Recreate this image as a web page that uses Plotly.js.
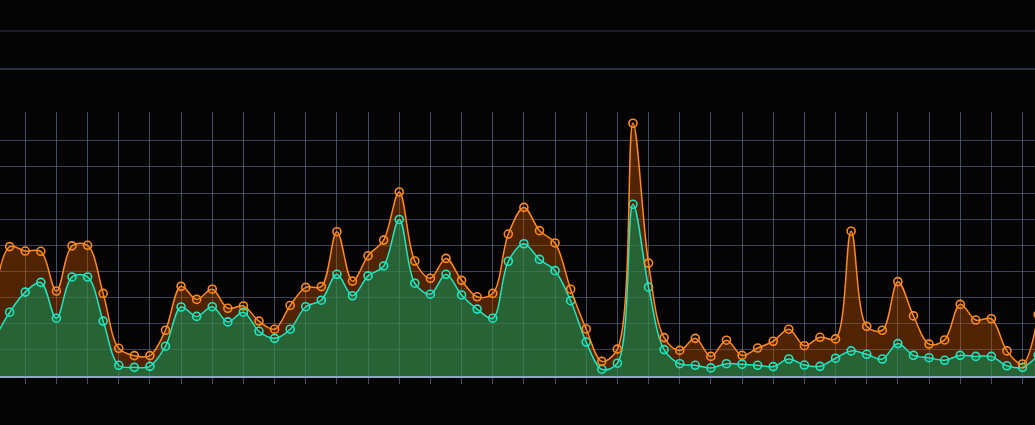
<!DOCTYPE html>
<html>
<head>
<meta charset="utf-8">
<script src="https://cdn.plot.ly/plotly-3.0.1.min.js"></script>
<style>
html,body{margin:0;padding:0;background:#040404;}
#chart{width:1035px;height:425px;}
</style>
</head>
<body>
<div id="chart"></div>
<script>
// sample index (one point per half grid step)
const samples = [];
for (let i = -1; i <= 66; i++) samples.push(i);

// upper series (orange)
const upperValues = [29.1,
  49.5,47.8,47.7,32.5,49.8,50.0,31.6,10.6,7.8,7.8,
  17.5,34.3,29.3,33.2,25.9,26.8,21.0,17.9,27.0,33.9,
  34.2,55.2,36.3,46.0,52.0,70.4,44.0,37.4,45.0,36.6,
  30.3,31.6,54.3,64.5,55.6,50.9,33.2,18.0,5.6,10.3,
  96.7,43.2,14.7,9.8,14.4,7.5,13.7,7.9,10.7,13.3,
  17.9,11.6,14.8,14.2,55.4,19.0,17.5,36.1,23.0,12.2,
  13.8,27.4,21.4,21.9,9.6,4.6,23.5];

// lower series (cyan)
const lowerValues = [13.8,
  24.4,32.1,35.8,22.1,37.9,37.9,21.0,4.1,3.3,3.7,
  11.4,26.4,22.8,26.5,20.7,24.4,17.1,14.4,17.9,26.5,
  29.0,38.9,30.7,38.3,42.1,59.9,35.5,31.3,38.9,31.0,
  25.6,22.1,43.9,50.6,44.6,40.3,28.8,13.0,2.6,4.9,
  65.7,34.0,10.1,4.7,4.1,3.1,4.7,4.5,4.1,3.6,
  6.5,4.2,3.7,6.8,9.6,8.3,6.5,12.4,7.9,7.0,
  6.0,7.9,7.5,7.5,3.9,3.3,8.0];

const gridColor = 'rgba(120,140,175,0.55)';

const lower = {
  x: samples, y: lowerValues, type: 'scatter', mode: 'lines+markers',
  line: {color: '#1ee8c4', width: 1.5, shape: 'spline', smoothing: 1},
  marker: {symbol: 'circle-open', size: 8, color: '#1ee8c4', line: {width: 1.6}},
  fill: 'tozeroy', fillcolor: 'rgba(55,135,70,0.72)',
  hoverinfo: 'skip', showlegend: false
};
const upper = {
  x: samples, y: upperValues, type: 'scatter', mode: 'lines+markers',
  line: {color: '#ff8a1e', width: 1.5, shape: 'spline', smoothing: 1},
  marker: {symbol: 'circle-open', size: 8, color: '#ff8a1e', line: {width: 1.6}},
  fill: 'tonexty', fillcolor: 'rgba(185,80,0,0.42)',
  hoverinfo: 'skip', showlegend: false
};

const layout = {
  width: 1035, height: 425,
  margin: {l: 0, r: 0, t: 112, b: 49, pad: 0},
  paper_bgcolor: '#040404', plot_bgcolor: '#040404',
  xaxis: {
    range: [-0.62, 65.8], tick0: 1, dtick: 2,
    showgrid: true, gridcolor: gridColor, gridwidth: 1,
    showticklabels: false, ticks: 'outside', ticklen: 6, tickcolor: gridColor,
    zeroline: false, showline: true, linecolor: '#93a6c6', linewidth: 1.5,
    fixedrange: true
  },
  yaxis: {
    range: [0, 101], tickvals: [10,20,30,40,50,60,70,80,90],
    showgrid: true, gridcolor: 'rgba(110,130,165,0.5)', gridwidth: 1,
    showticklabels: false, ticks: '', zeroline: false, showline: false,
    fixedrange: true
  },
  shapes: [
    {type: 'line', xref: 'paper', yref: 'paper', x0: 0, x1: 1, y0: 1.3068, y1: 1.3068,
     line: {color: '#2f3944', width: 1}},
    {type: 'line', xref: 'paper', yref: 'paper', x0: 0, x1: 1, y0: 1.163, y1: 1.163,
     line: {color: '#4c6072', width: 1}}
  ]
};

Plotly.newPlot('chart', [lower, upper], layout, {displayModeBar: false, staticPlot: true});
</script>
</body>
</html>
